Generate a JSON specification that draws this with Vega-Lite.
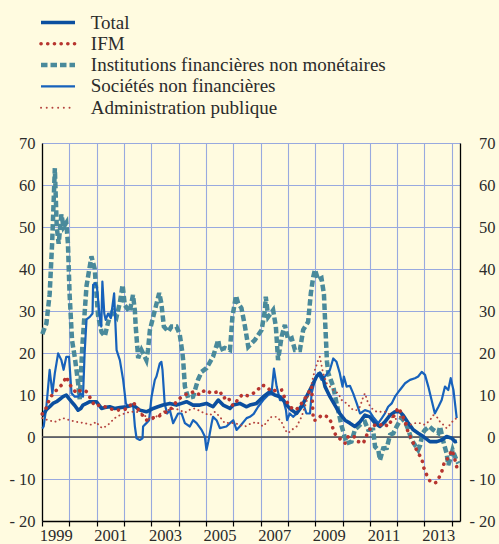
{
  "$schema": "https://vega.github.io/schema/vega-lite/v6.json",
  "width": 418,
  "height": 378,
  "autosize": "none",
  "padding": {"left": 42, "top": 143, "right": 39, "bottom": 23},
  "background": "#fffbe0",
  "config": {
    "view": {"stroke": null},
    "font": "Liberation Serif",
    "axis": {"labelFont": "Liberation Serif", "labelFontSize": 16.5, "labelColor": "#2b2b2b", "title": null},
    "legend": {"labelFont": "Liberation Serif"}
  },
  "datasets": {
    "ifnm": [{"series":"IFNM","year":1999.01,"value":24.5},{"series":"IFNM","year":1999.16,"value":27},{"series":"IFNM","year":1999.28,"value":34},{"series":"IFNM","year":1999.37,"value":46},{"series":"IFNM","year":1999.47,"value":64},{"series":"IFNM","year":1999.54,"value":50},{"series":"IFNM","year":1999.61,"value":46},{"series":"IFNM","year":1999.71,"value":53},{"series":"IFNM","year":1999.79,"value":50},{"series":"IFNM","year":1999.89,"value":51},{"series":"IFNM","year":1999.95,"value":46},{"series":"IFNM","year":2000.01,"value":34},{"series":"IFNM","year":2000.10,"value":23},{"series":"IFNM","year":2000.20,"value":19},{"series":"IFNM","year":2000.32,"value":13},{"series":"IFNM","year":2000.38,"value":9},{"series":"IFNM","year":2000.48,"value":22},{"series":"IFNM","year":2000.63,"value":36},{"series":"IFNM","year":2000.81,"value":43},{"series":"IFNM","year":2000.93,"value":40},{"series":"IFNM","year":2001.05,"value":29},{"series":"IFNM","year":2001.18,"value":25},{"series":"IFNM","year":2001.30,"value":24},{"series":"IFNM","year":2001.41,"value":27},{"series":"IFNM","year":2001.48,"value":28.6},{"series":"IFNM","year":2001.59,"value":30},{"series":"IFNM","year":2001.73,"value":28.6},{"series":"IFNM","year":2001.85,"value":32},{"series":"IFNM","year":2001.95,"value":36.2},{"series":"IFNM","year":2002.03,"value":31.4},{"series":"IFNM","year":2002.21,"value":29.8},{"series":"IFNM","year":2002.33,"value":33.8},{"series":"IFNM","year":2002.40,"value":30},{"series":"IFNM","year":2002.43,"value":26.3},{"series":"IFNM","year":2002.52,"value":18.8},{"series":"IFNM","year":2002.64,"value":20.7},{"series":"IFNM","year":2002.82,"value":18.3},{"series":"IFNM","year":2002.88,"value":20.7},{"series":"IFNM","year":2002.95,"value":25.5},{"series":"IFNM","year":2003.07,"value":28.6},{"series":"IFNM","year":2003.29,"value":34.3},{"series":"IFNM","year":2003.37,"value":31.8},{"series":"IFNM","year":2003.46,"value":26.3},{"series":"IFNM","year":2003.62,"value":25.1},{"series":"IFNM","year":2003.74,"value":26.3},{"series":"IFNM","year":2003.92,"value":26.3},{"series":"IFNM","year":2004.04,"value":24.5},{"series":"IFNM","year":2004.14,"value":20},{"series":"IFNM","year":2004.17,"value":18},{"series":"IFNM","year":2004.23,"value":12},{"series":"IFNM","year":2004.35,"value":9.3},{"series":"IFNM","year":2004.53,"value":9.6},{"series":"IFNM","year":2004.71,"value":13.6},{"series":"IFNM","year":2004.84,"value":15.5},{"series":"IFNM","year":2005.02,"value":16.4},{"series":"IFNM","year":2005.26,"value":19.1},{"series":"IFNM","year":2005.45,"value":23.1},{"series":"IFNM","year":2005.51,"value":20.7},{"series":"IFNM","year":2005.69,"value":21.2},{"series":"IFNM","year":2005.88,"value":20.7},{"series":"IFNM","year":2005.97,"value":28.6},{"series":"IFNM","year":2006.10,"value":33.6},{"series":"IFNM","year":2006.18,"value":31.8},{"series":"IFNM","year":2006.30,"value":30.7},{"series":"IFNM","year":2006.43,"value":26.3},{"series":"IFNM","year":2006.55,"value":21.5},{"series":"IFNM","year":2006.67,"value":22.3},{"series":"IFNM","year":2006.79,"value":23.1},{"series":"IFNM","year":2007.04,"value":25.5},{"series":"IFNM","year":2007.16,"value":30.2},{"series":"IFNM","year":2007.19,"value":33.4},{"series":"IFNM","year":2007.28,"value":28.6},{"series":"IFNM","year":2007.46,"value":30.2},{"series":"IFNM","year":2007.56,"value":26.3},{"series":"IFNM","year":2007.64,"value":18.3},{"series":"IFNM","year":2007.77,"value":23.9},{"series":"IFNM","year":2007.89,"value":26.7},{"series":"IFNM","year":2008.01,"value":23.1},{"series":"IFNM","year":2008.14,"value":23.5},{"series":"IFNM","year":2008.26,"value":20.7},{"series":"IFNM","year":2008.44,"value":20.7},{"series":"IFNM","year":2008.56,"value":25.5},{"series":"IFNM","year":2008.74,"value":27.4},{"series":"IFNM","year":2008.84,"value":34.2},{"series":"IFNM","year":2008.93,"value":38.2},{"series":"IFNM","year":2008.99,"value":39.8},{"series":"IFNM","year":2009.11,"value":37.4},{"series":"IFNM","year":2009.23,"value":37.8},{"series":"IFNM","year":2009.32,"value":34},{"series":"IFNM","year":2009.36,"value":28},{"series":"IFNM","year":2009.43,"value":18},{"series":"IFNM","year":2009.48,"value":15.2},{"series":"IFNM","year":2009.66,"value":12},{"series":"IFNM","year":2009.78,"value":8.1},{"series":"IFNM","year":2009.97,"value":2.5},{"series":"IFNM","year":2010.15,"value":-1.5},{"series":"IFNM","year":2010.33,"value":-1.1},{"series":"IFNM","year":2010.45,"value":1.7},{"series":"IFNM","year":2010.58,"value":2.5},{"series":"IFNM","year":2010.70,"value":3.3},{"series":"IFNM","year":2010.82,"value":3.6},{"series":"IFNM","year":2010.94,"value":1.7},{"series":"IFNM","year":2011.12,"value":1.7},{"series":"IFNM","year":2011.19,"value":-2.3},{"series":"IFNM","year":2011.31,"value":-3.1},{"series":"IFNM","year":2011.37,"value":-5.5},{"series":"IFNM","year":2011.49,"value":-2.7},{"series":"IFNM","year":2011.62,"value":-2.6},{"series":"IFNM","year":2011.74,"value":0.5},{"series":"IFNM","year":2011.86,"value":0.9},{"series":"IFNM","year":2011.98,"value":2.5},{"series":"IFNM","year":2012.16,"value":4.5},{"series":"IFNM","year":2012.29,"value":3.6},{"series":"IFNM","year":2012.41,"value":1.7},{"series":"IFNM","year":2012.53,"value":-0.7},{"series":"IFNM","year":2012.65,"value":-1.9},{"series":"IFNM","year":2012.77,"value":-3.1},{"series":"IFNM","year":2012.84,"value":-2},{"series":"IFNM","year":2012.93,"value":0.9},{"series":"IFNM","year":2013.02,"value":1.7},{"series":"IFNM","year":2013.18,"value":2.5},{"series":"IFNM","year":2013.32,"value":1.7},{"series":"IFNM","year":2013.51,"value":0.9},{"series":"IFNM","year":2013.57,"value":2.5},{"series":"IFNM","year":2013.69,"value":-1.1},{"series":"IFNM","year":2013.81,"value":-3.9},{"series":"IFNM","year":2013.87,"value":-6.7},{"series":"IFNM","year":2013.93,"value":-5.5},{"series":"IFNM","year":2014.03,"value":-3.1},{"series":"IFNM","year":2014.12,"value":-4.7},{"series":"IFNM","year":2014.24,"value":-6.3}],
    "total": [{"series":"Total","year":1999.01,"value":5},{"series":"Total","year":1999.16,"value":6.5},{"series":"Total","year":1999.28,"value":7.2},{"series":"Total","year":1999.40,"value":8},{"series":"Total","year":1999.53,"value":8.4},{"series":"Total","year":1999.65,"value":9},{"series":"Total","year":1999.77,"value":9.6},{"series":"Total","year":1999.89,"value":10},{"series":"Total","year":1999.98,"value":9.2},{"series":"Total","year":2000.08,"value":8.4},{"series":"Total","year":2000.20,"value":7.5},{"series":"Total","year":2000.32,"value":6.4},{"series":"Total","year":2000.42,"value":6.8},{"series":"Total","year":2000.50,"value":7.6},{"series":"Total","year":2000.63,"value":8},{"series":"Total","year":2000.75,"value":8.4},{"series":"Total","year":2000.87,"value":8.4},{"series":"Total","year":2000.99,"value":8.4},{"series":"Total","year":2001.18,"value":6.8},{"series":"Total","year":2001.30,"value":7},{"series":"Total","year":2001.48,"value":7.2},{"series":"Total","year":2001.66,"value":6.8},{"series":"Total","year":2001.85,"value":7},{"series":"Total","year":2002.09,"value":7.2},{"series":"Total","year":2002.33,"value":7.6},{"series":"Total","year":2002.46,"value":7},{"series":"Total","year":2002.58,"value":6.4},{"series":"Total","year":2002.82,"value":6},{"series":"Total","year":2002.95,"value":6.4},{"series":"Total","year":2003.07,"value":6.8},{"series":"Total","year":2003.24,"value":7.2},{"series":"Total","year":2003.43,"value":7.6},{"series":"Total","year":2003.68,"value":8},{"series":"Total","year":2003.92,"value":7.6},{"series":"Total","year":2004.11,"value":8},{"series":"Total","year":2004.29,"value":8.4},{"series":"Total","year":2004.53,"value":7.6},{"series":"Total","year":2004.78,"value":7.6},{"series":"Total","year":2005.02,"value":8},{"series":"Total","year":2005.14,"value":7.6},{"series":"Total","year":2005.26,"value":7.2},{"series":"Total","year":2005.45,"value":8.8},{"series":"Total","year":2005.63,"value":7.6},{"series":"Total","year":2005.88,"value":6.8},{"series":"Total","year":2006.00,"value":7.6},{"series":"Total","year":2006.24,"value":8},{"series":"Total","year":2006.49,"value":7.2},{"series":"Total","year":2006.61,"value":7.6},{"series":"Total","year":2006.85,"value":8},{"series":"Total","year":2007.10,"value":9.6},{"series":"Total","year":2007.34,"value":10.8},{"series":"Total","year":2007.52,"value":10},{"series":"Total","year":2007.71,"value":9.6},{"series":"Total","year":2007.83,"value":8.8},{"series":"Total","year":2008.01,"value":7.2},{"series":"Total","year":2008.14,"value":6.4},{"series":"Total","year":2008.32,"value":5.6},{"series":"Total","year":2008.50,"value":7.2},{"series":"Total","year":2008.68,"value":9.6},{"series":"Total","year":2008.87,"value":12},{"series":"Total","year":2009.05,"value":14.4},{"series":"Total","year":2009.17,"value":15.2},{"series":"Total","year":2009.29,"value":14},{"series":"Total","year":2009.36,"value":12},{"series":"Total","year":2009.54,"value":9.6},{"series":"Total","year":2009.72,"value":7.6},{"series":"Total","year":2009.90,"value":5.6},{"series":"Total","year":2010.09,"value":4},{"series":"Total","year":2010.27,"value":3.3},{"series":"Total","year":2010.45,"value":2.5},{"series":"Total","year":2010.64,"value":3.6},{"series":"Total","year":2010.82,"value":5.2},{"series":"Total","year":2011.00,"value":4.8},{"series":"Total","year":2011.19,"value":3.3},{"series":"Total","year":2011.37,"value":2.5},{"series":"Total","year":2011.55,"value":3.6},{"series":"Total","year":2011.74,"value":5.2},{"series":"Total","year":2011.92,"value":6},{"series":"Total","year":2012.10,"value":6},{"series":"Total","year":2012.22,"value":5.2},{"series":"Total","year":2012.41,"value":3.3},{"series":"Total","year":2012.59,"value":1.7},{"series":"Total","year":2012.77,"value":0.9},{"series":"Total","year":2012.96,"value":0.1},{"series":"Total","year":2013.20,"value":-1.1},{"series":"Total","year":2013.45,"value":-1.1},{"series":"Total","year":2013.63,"value":-0.7},{"series":"Total","year":2013.81,"value":0.1},{"series":"Total","year":2014.00,"value":-0.3},{"series":"Total","year":2014.12,"value":-1.1},{"series":"Total","year":2014.19,"value":-1}],
    "snf": [{"series":"SNF","year":1999.01,"value":2},{"series":"SNF","year":1999.06,"value":2.5},{"series":"SNF","year":1999.16,"value":7.2},{"series":"SNF","year":1999.28,"value":16},{"series":"SNF","year":1999.38,"value":10.4},{"series":"SNF","year":1999.47,"value":15.2},{"series":"SNF","year":1999.59,"value":19.9},{"series":"SNF","year":1999.71,"value":18.3},{"series":"SNF","year":1999.79,"value":16},{"series":"SNF","year":1999.89,"value":19.1},{"series":"SNF","year":1999.99,"value":19.1},{"series":"SNF","year":2000.08,"value":10.4},{"series":"SNF","year":2000.20,"value":9.6},{"series":"SNF","year":2000.32,"value":9.6},{"series":"SNF","year":2000.41,"value":10.4},{"series":"SNF","year":2000.50,"value":9.6},{"series":"SNF","year":2000.56,"value":19.9},{"series":"SNF","year":2000.63,"value":28},{"series":"SNF","year":2000.75,"value":28.6},{"series":"SNF","year":2000.85,"value":29.4},{"series":"SNF","year":2000.87,"value":36.2},{"series":"SNF","year":2000.95,"value":36.6},{"series":"SNF","year":2001.01,"value":35.8},{"series":"SNF","year":2001.11,"value":28.6},{"series":"SNF","year":2001.17,"value":26.3},{"series":"SNF","year":2001.21,"value":37},{"series":"SNF","year":2001.28,"value":29.4},{"series":"SNF","year":2001.33,"value":27.9},{"series":"SNF","year":2001.42,"value":29.4},{"series":"SNF","year":2001.52,"value":28.3},{"series":"SNF","year":2001.64,"value":34.2},{"series":"SNF","year":2001.68,"value":28},{"series":"SNF","year":2001.73,"value":20.7},{"series":"SNF","year":2001.85,"value":18.3},{"series":"SNF","year":2001.97,"value":13.6},{"series":"SNF","year":2002.07,"value":8},{"series":"SNF","year":2002.15,"value":7.2},{"series":"SNF","year":2002.27,"value":7.6},{"series":"SNF","year":2002.34,"value":7.2},{"series":"SNF","year":2002.40,"value":2.5},{"series":"SNF","year":2002.46,"value":-0.3},{"series":"SNF","year":2002.58,"value":-0.7},{"series":"SNF","year":2002.68,"value":-0.3},{"series":"SNF","year":2002.70,"value":2.5},{"series":"SNF","year":2002.82,"value":3.3},{"series":"SNF","year":2002.92,"value":4},{"series":"SNF","year":2003.01,"value":9.6},{"series":"SNF","year":2003.13,"value":13.6},{"series":"SNF","year":2003.19,"value":14.4},{"series":"SNF","year":2003.31,"value":17.5},{"series":"SNF","year":2003.37,"value":17.9},{"series":"SNF","year":2003.41,"value":16},{"series":"SNF","year":2003.49,"value":8},{"series":"SNF","year":2003.58,"value":5.6},{"series":"SNF","year":2003.68,"value":6.4},{"series":"SNF","year":2003.80,"value":3.3},{"series":"SNF","year":2003.98,"value":5.6},{"series":"SNF","year":2004.11,"value":5.6},{"series":"SNF","year":2004.23,"value":3.3},{"series":"SNF","year":2004.41,"value":2.5},{"series":"SNF","year":2004.53,"value":4},{"series":"SNF","year":2004.66,"value":3.3},{"series":"SNF","year":2004.84,"value":1.7},{"series":"SNF","year":2004.96,"value":0.1},{"series":"SNF","year":2005.02,"value":-3.1},{"series":"SNF","year":2005.09,"value":-1},{"series":"SNF","year":2005.21,"value":3.3},{"series":"SNF","year":2005.26,"value":4.8},{"series":"SNF","year":2005.39,"value":4},{"series":"SNF","year":2005.51,"value":2.1},{"series":"SNF","year":2005.75,"value":2.5},{"series":"SNF","year":2005.88,"value":3.3},{"series":"SNF","year":2006.00,"value":4},{"series":"SNF","year":2006.12,"value":1.7},{"series":"SNF","year":2006.24,"value":2.5},{"series":"SNF","year":2006.49,"value":4.5},{"series":"SNF","year":2006.61,"value":4.8},{"series":"SNF","year":2006.75,"value":5.5},{"series":"SNF","year":2006.91,"value":7.2},{"series":"SNF","year":2007.10,"value":8.8},{"series":"SNF","year":2007.28,"value":10},{"series":"SNF","year":2007.40,"value":10.4},{"series":"SNF","year":2007.49,"value":16.3},{"series":"SNF","year":2007.59,"value":12},{"series":"SNF","year":2007.71,"value":8.8},{"series":"SNF","year":2007.83,"value":8.8},{"series":"SNF","year":2007.93,"value":6.4},{"series":"SNF","year":2007.97,"value":4},{"series":"SNF","year":2008.07,"value":5.6},{"series":"SNF","year":2008.19,"value":4.8},{"series":"SNF","year":2008.32,"value":5.6},{"series":"SNF","year":2008.44,"value":7.2},{"series":"SNF","year":2008.56,"value":8},{"series":"SNF","year":2008.68,"value":5.6},{"series":"SNF","year":2008.81,"value":5.6},{"series":"SNF","year":2008.87,"value":10.4},{"series":"SNF","year":2008.99,"value":13.6},{"series":"SNF","year":2009.11,"value":15.2},{"series":"SNF","year":2009.23,"value":13.6},{"series":"SNF","year":2009.36,"value":14.4},{"series":"SNF","year":2009.54,"value":16},{"series":"SNF","year":2009.66,"value":18.7},{"series":"SNF","year":2009.78,"value":17.9},{"series":"SNF","year":2009.90,"value":15.2},{"series":"SNF","year":2010.00,"value":12},{"series":"SNF","year":2010.05,"value":14.4},{"series":"SNF","year":2010.15,"value":12},{"series":"SNF","year":2010.27,"value":12.2},{"series":"SNF","year":2010.39,"value":10.4},{"series":"SNF","year":2010.52,"value":8},{"series":"SNF","year":2010.64,"value":5.6},{"series":"SNF","year":2010.82,"value":6.4},{"series":"SNF","year":2011.00,"value":6},{"series":"SNF","year":2011.12,"value":4.8},{"series":"SNF","year":2011.31,"value":3.3},{"series":"SNF","year":2011.44,"value":4.5},{"series":"SNF","year":2011.55,"value":5.6},{"series":"SNF","year":2011.67,"value":7.2},{"series":"SNF","year":2011.80,"value":8},{"series":"SNF","year":2011.92,"value":9.6},{"series":"SNF","year":2012.10,"value":11.2},{"series":"SNF","year":2012.29,"value":12.8},{"series":"SNF","year":2012.47,"value":13.6},{"series":"SNF","year":2012.65,"value":14},{"series":"SNF","year":2012.77,"value":14.4},{"series":"SNF","year":2012.90,"value":15.5},{"series":"SNF","year":2013.02,"value":14.8},{"series":"SNF","year":2013.14,"value":12},{"series":"SNF","year":2013.26,"value":8.8},{"series":"SNF","year":2013.38,"value":5.6},{"series":"SNF","year":2013.51,"value":7.2},{"series":"SNF","year":2013.63,"value":8.8},{"series":"SNF","year":2013.75,"value":12},{"series":"SNF","year":2013.87,"value":11.2},{"series":"SNF","year":2013.96,"value":14},{"series":"SNF","year":2014.06,"value":11.2},{"series":"SNF","year":2014.18,"value":4.5}],
    "ifm": [{"series":"IFM","year":1999.01,"value":5.5},{"series":"IFM","year":1999.16,"value":7},{"series":"IFM","year":1999.28,"value":9.2},{"series":"IFM","year":1999.47,"value":10.8},{"series":"IFM","year":1999.61,"value":11.6},{"series":"IFM","year":1999.77,"value":12.8},{"series":"IFM","year":1999.89,"value":14.4},{"series":"IFM","year":2000.01,"value":12.5},{"series":"IFM","year":2000.14,"value":11.5},{"series":"IFM","year":2000.26,"value":10.4},{"series":"IFM","year":2000.38,"value":11},{"series":"IFM","year":2000.50,"value":11.2},{"series":"IFM","year":2000.63,"value":10.8},{"series":"IFM","year":2000.81,"value":8.8},{"series":"IFM","year":2000.93,"value":7.4},{"series":"IFM","year":2001.11,"value":7.6},{"series":"IFM","year":2001.30,"value":7.2},{"series":"IFM","year":2001.48,"value":6.8},{"series":"IFM","year":2001.66,"value":6.4},{"series":"IFM","year":2001.91,"value":6.4},{"series":"IFM","year":2002.15,"value":6.8},{"series":"IFM","year":2002.33,"value":8.4},{"series":"IFM","year":2002.47,"value":7},{"series":"IFM","year":2002.58,"value":6},{"series":"IFM","year":2002.82,"value":4},{"series":"IFM","year":2003.01,"value":4.5},{"series":"IFM","year":2003.25,"value":4.8},{"series":"IFM","year":2003.43,"value":5.6},{"series":"IFM","year":2003.68,"value":6.4},{"series":"IFM","year":2003.92,"value":8.4},{"series":"IFM","year":2004.11,"value":9.6},{"series":"IFM","year":2004.35,"value":10.4},{"series":"IFM","year":2004.59,"value":10.8},{"series":"IFM","year":2004.78,"value":10},{"series":"IFM","year":2004.96,"value":11.2},{"series":"IFM","year":2005.21,"value":10.4},{"series":"IFM","year":2005.45,"value":10.8},{"series":"IFM","year":2005.51,"value":11},{"series":"IFM","year":2005.63,"value":9.2},{"series":"IFM","year":2005.81,"value":9.6},{"series":"IFM","year":2005.94,"value":7.6},{"series":"IFM","year":2006.06,"value":7.6},{"series":"IFM","year":2006.18,"value":9.2},{"series":"IFM","year":2006.36,"value":10.2},{"series":"IFM","year":2006.53,"value":9.8},{"series":"IFM","year":2006.61,"value":10},{"series":"IFM","year":2006.85,"value":10.8},{"series":"IFM","year":2007.04,"value":12.4},{"series":"IFM","year":2007.22,"value":12},{"series":"IFM","year":2007.40,"value":10.8},{"series":"IFM","year":2007.59,"value":11.2},{"series":"IFM","year":2007.77,"value":11.2},{"series":"IFM","year":2007.89,"value":9.2},{"series":"IFM","year":2008.07,"value":7.2},{"series":"IFM","year":2008.26,"value":6.4},{"series":"IFM","year":2008.44,"value":7.2},{"series":"IFM","year":2008.56,"value":8.8},{"series":"IFM","year":2008.68,"value":9.6},{"series":"IFM","year":2008.87,"value":12},{"series":"IFM","year":2008.93,"value":4},{"series":"IFM","year":2009.06,"value":4},{"series":"IFM","year":2009.23,"value":5.2},{"series":"IFM","year":2009.48,"value":4.8},{"series":"IFM","year":2009.60,"value":3.3},{"series":"IFM","year":2009.66,"value":1.7},{"series":"IFM","year":2009.78,"value":0.1},{"series":"IFM","year":2009.97,"value":-0.7},{"series":"IFM","year":2010.09,"value":-1.5},{"series":"IFM","year":2010.21,"value":0.1},{"series":"IFM","year":2010.33,"value":-0.2},{"series":"IFM","year":2010.45,"value":0.1},{"series":"IFM","year":2010.58,"value":-1.1},{"series":"IFM","year":2010.76,"value":-1.5},{"series":"IFM","year":2010.94,"value":1.3},{"series":"IFM","year":2011.12,"value":2.9},{"series":"IFM","year":2011.31,"value":2.5},{"series":"IFM","year":2011.49,"value":3.3},{"series":"IFM","year":2011.67,"value":2.5},{"series":"IFM","year":2011.86,"value":4.8},{"series":"IFM","year":2012.04,"value":7},{"series":"IFM","year":2012.16,"value":5.6},{"series":"IFM","year":2012.29,"value":3.6},{"series":"IFM","year":2012.41,"value":0.9},{"series":"IFM","year":2012.53,"value":-0.5},{"series":"IFM","year":2012.62,"value":-1.9},{"series":"IFM","year":2012.77,"value":-3.9},{"series":"IFM","year":2012.90,"value":-5.1},{"series":"IFM","year":2012.96,"value":-7.1},{"series":"IFM","year":2013.08,"value":-9},{"series":"IFM","year":2013.20,"value":-10.5},{"series":"IFM","year":2013.32,"value":-11},{"series":"IFM","year":2013.45,"value":-10.8},{"series":"IFM","year":2013.63,"value":-8.3},{"series":"IFM","year":2013.75,"value":-5.5},{"series":"IFM","year":2013.87,"value":-5.1},{"series":"IFM","year":2014.00,"value":-3.1},{"series":"IFM","year":2014.08,"value":-4.5},{"series":"IFM","year":2014.19,"value":-7.4}],
    "apu": [{"series":"APU","year":1999.01,"value":4.5},{"series":"APU","year":1999.22,"value":4},{"series":"APU","year":1999.47,"value":3.6},{"series":"APU","year":1999.77,"value":4.5},{"series":"APU","year":2000.01,"value":4},{"series":"APU","year":2000.26,"value":3.6},{"series":"APU","year":2000.56,"value":3.3},{"series":"APU","year":2000.81,"value":2.9},{"series":"APU","year":2000.99,"value":3.6},{"series":"APU","year":2001.11,"value":2.5},{"series":"APU","year":2001.23,"value":2.1},{"series":"APU","year":2001.42,"value":2.9},{"series":"APU","year":2001.66,"value":4.5},{"series":"APU","year":2001.85,"value":5.2},{"series":"APU","year":2002.03,"value":5.6},{"series":"APU","year":2002.21,"value":6},{"series":"APU","year":2002.46,"value":6},{"series":"APU","year":2002.64,"value":5.6},{"series":"APU","year":2002.82,"value":4.8},{"series":"APU","year":2003.01,"value":4},{"series":"APU","year":2003.25,"value":5.2},{"series":"APU","year":2003.43,"value":6},{"series":"APU","year":2003.62,"value":6.4},{"series":"APU","year":2003.86,"value":6.8},{"series":"APU","year":2004.04,"value":6.4},{"series":"APU","year":2004.23,"value":5.8},{"series":"APU","year":2004.41,"value":6.5},{"series":"APU","year":2004.59,"value":6.8},{"series":"APU","year":2004.78,"value":6.2},{"series":"APU","year":2004.96,"value":5.6},{"series":"APU","year":2005.14,"value":5.2},{"series":"APU","year":2005.33,"value":6},{"series":"APU","year":2005.51,"value":4.8},{"series":"APU","year":2005.69,"value":3.3},{"series":"APU","year":2005.88,"value":3.4},{"series":"APU","year":2006.06,"value":3.3},{"series":"APU","year":2006.24,"value":2.9},{"series":"APU","year":2006.43,"value":2.5},{"series":"APU","year":2006.61,"value":3.1},{"series":"APU","year":2006.85,"value":3.6},{"series":"APU","year":2007.10,"value":2.5},{"series":"APU","year":2007.28,"value":4},{"series":"APU","year":2007.40,"value":4.8},{"series":"APU","year":2007.59,"value":4.8},{"series":"APU","year":2007.77,"value":3.6},{"series":"APU","year":2007.89,"value":1.7},{"series":"APU","year":2008.01,"value":0.9},{"series":"APU","year":2008.14,"value":1.7},{"series":"APU","year":2008.32,"value":2.5},{"series":"APU","year":2008.50,"value":4.8},{"series":"APU","year":2008.62,"value":7.2},{"series":"APU","year":2008.74,"value":9.6},{"series":"APU","year":2008.87,"value":12.8},{"series":"APU","year":2008.99,"value":16},{"series":"APU","year":2009.11,"value":18.3},{"series":"APU","year":2009.17,"value":19.1},{"series":"APU","year":2009.29,"value":15.2},{"series":"APU","year":2009.42,"value":12.8},{"series":"APU","year":2009.54,"value":12},{"series":"APU","year":2009.66,"value":11.2},{"series":"APU","year":2009.84,"value":10.4},{"series":"APU","year":2009.97,"value":8.8},{"series":"APU","year":2010.15,"value":8},{"series":"APU","year":2010.27,"value":7.2},{"series":"APU","year":2010.39,"value":6.4},{"series":"APU","year":2010.52,"value":6.4},{"series":"APU","year":2010.64,"value":7.2},{"series":"APU","year":2010.76,"value":9.6},{"series":"APU","year":2010.82,"value":10.4},{"series":"APU","year":2010.94,"value":8},{"series":"APU","year":2011.07,"value":6.8},{"series":"APU","year":2011.25,"value":6},{"series":"APU","year":2011.43,"value":6},{"series":"APU","year":2011.62,"value":6},{"series":"APU","year":2011.80,"value":4.8},{"series":"APU","year":2011.92,"value":4.2},{"series":"APU","year":2012.10,"value":4.8},{"series":"APU","year":2012.29,"value":3.6},{"series":"APU","year":2012.47,"value":2.9},{"series":"APU","year":2012.65,"value":3.3},{"series":"APU","year":2012.84,"value":3.3},{"series":"APU","year":2013.02,"value":2.9},{"series":"APU","year":2013.20,"value":4},{"series":"APU","year":2013.32,"value":5.2},{"series":"APU","year":2013.45,"value":4.8},{"series":"APU","year":2013.57,"value":3.6},{"series":"APU","year":2013.69,"value":2.9},{"series":"APU","year":2013.81,"value":2.1},{"series":"APU","year":2013.93,"value":2.9},{"series":"APU","year":2014.06,"value":4},{"series":"APU","year":2014.18,"value":4.5}]
  },
  "layer": [
    {
      "data": {"values": [{"zero": 0}]},
      "mark": {"type": "rule", "color": "#4a4a4a", "strokeWidth": 1.6},
      "encoding": {
        "y": {
          "field": "zero", "type": "quantitative",
          "scale": {"domain": [-20, 70], "nice": false, "zero": false},
          "axis": {
            "orient": "right", "values": [-20, -10, 0, 10, 20, 30, 40, 50, 60, 70],
            "labelExpr": "datum.value < 0 ? '- ' + (-datum.value) : '' + datum.value",
            "grid": false, "ticks": false, "tickSize": 0, "domain": true, "domainColor": "#000000", "domainWidth": 1.3,
            "labelAlign": "right", "labelPadding": 35, "labelFlush": false, "title": null
          }
        }
      }
    },
    {
      "encoding": {
        "x": {
          "field": "year", "type": "quantitative",
          "scale": {"domain": [1999, 2014.3], "nice": false, "zero": false},
          "axis": {
            "values": [1999, 2000, 2001, 2002, 2003, 2004, 2005, 2006, 2007, 2008, 2009, 2010, 2011, 2012, 2013, 2014],
            "labelExpr": "datum.value % 2 == 1 && datum.value < 2014 ? '' + datum.value : ''",
            "labelOffset": 13.65, "labelPadding": 1, "labelFlush": false, "labelOverlap": false,
            "tickSize": 5, "tickColor": "#000000", "tickWidth": 1.2,
            "domainColor": "#000000", "domainWidth": 1.3,
            "grid": true, "gridColor": "#98a9df", "gridWidth": 1.1, "gridOpacity": 1, "title": null
          }
        },
        "y": {
          "field": "value", "type": "quantitative",
          "scale": {"domain": [-20, 70], "nice": false, "zero": false},
          "axis": {
            "orient": "left", "values": [-20, -10, 0, 10, 20, 30, 40, 50, 60, 70],
            "labelExpr": "datum.value < 0 ? '- ' + (-datum.value) : '' + datum.value",
            "ticks": false, "tickSize": 0, "labelPadding": 7, "labelFlush": false,
            "domainColor": "#000000", "domainWidth": 1.3,
            "grid": true, "gridColor": "#98a9df", "gridWidth": 1.1, "gridOpacity": 1, "title": null
          }
        },
        "color": {
          "field": "series", "type": "nominal",
          "scale": {
            "domain": ["Total", "IFM", "IFNM", "SNF", "APU"],
            "range": ["#0b4f9f", "#b7352f", "#4a8a9b", "#1762bb", "#b5443f"]
          },
          "legend": {
            "orient": "none", "legendX": -1.3, "legendY": -130, "title": null,
            "symbolType": "stroke", "symbolSize": 1156, "symbolStrokeWidth": 3,
            "labelFont": "Liberation Serif", "labelFontSize": 19, "labelColor": "#2b2b2b", "labelLimit": 420,
            "labelOffset": 23.3, "rowPadding": 1.3, "padding": 0, "symbolOffset": 7.8,
            "labelExpr": "datum.label == 'IFNM' ? 'Institutions financières non monétaires' : datum.label == 'SNF' ? 'Sociétés non financières' : datum.label == 'APU' ? 'Administration publique' : datum.label",
            "encode": {
              "symbols": {
                "update": {
                  "strokeDash": {"signal": "datum.value == 'IFM' ? [0.1, 6.6] : datum.value == 'IFNM' ? [6.5, 3] : datum.value == 'APU' ? [0.1, 5.6] : [1, 0]"},
                  "strokeWidth": {"signal": "datum.value == 'Total' ? 3.6 : datum.value == 'IFM' ? 3.6 : datum.value == 'IFNM' ? 4.5 : datum.value == 'SNF' ? 2.2 : 1.9"},
                  "strokeCap": {"signal": "datum.value == 'IFM' || datum.value == 'APU' ? 'round' : 'butt'"}
                }
              }
            }
          }
        }
      },
      "layer": [
        {"data": {"name": "ifnm"}, "mark": {"type": "line", "strokeWidth": 4.5, "strokeDash": [6.5, 3], "strokeCap": "butt", "strokeJoin": "miter"}},
        {"data": {"name": "snf"}, "mark": {"type": "line", "strokeWidth": 2.2, "strokeJoin": "round"}},
        {"data": {"name": "total"}, "mark": {"type": "line", "strokeWidth": 3.6, "strokeJoin": "round"}},
        {"data": {"name": "apu"}, "mark": {"type": "line", "strokeWidth": 1.9, "strokeDash": [0.1, 4.5], "strokeCap": "round"}},
        {"data": {"name": "ifm"}, "mark": {"type": "line", "strokeWidth": 3.6, "strokeDash": [0.1, 6.8], "strokeCap": "round"}}
      ]
    }
  ],
  "resolve": {"axis": {"y": "independent"}}
}
